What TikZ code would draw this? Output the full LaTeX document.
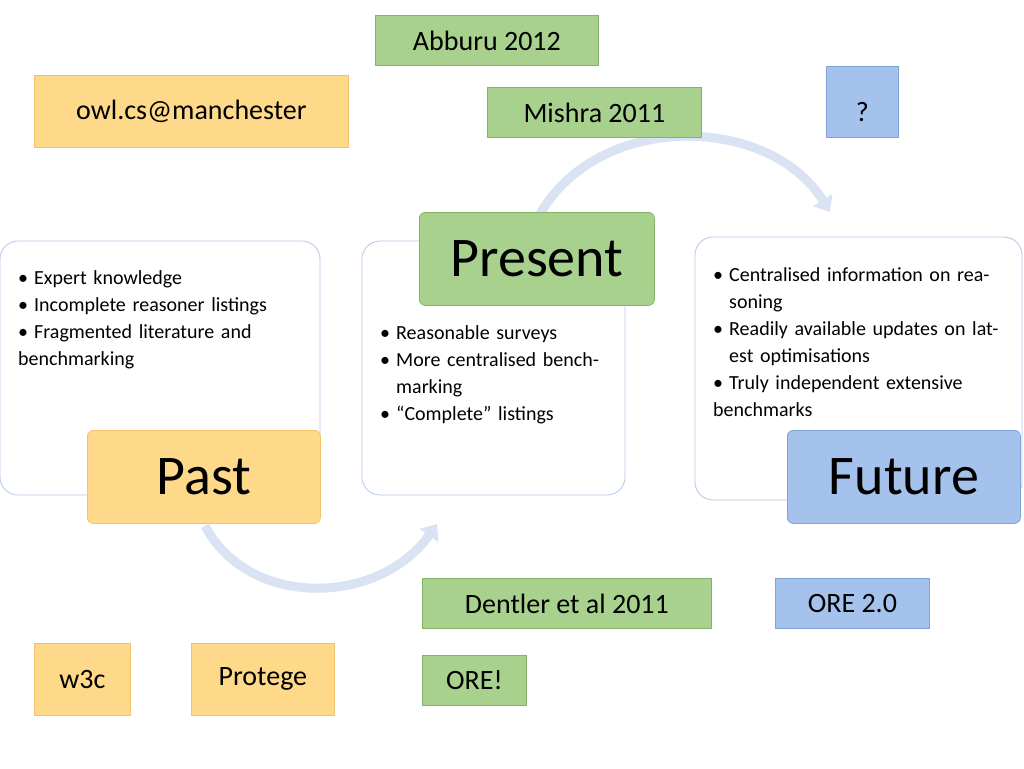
\documentclass[tikz,border=0pt]{standalone}
\usepackage{fontspec}
\setmainfont{Carlito}
\usetikzlibrary{arrows.meta}
\definecolor{gfill}{HTML}{A9D18E}\definecolor{gline}{HTML}{82B366}
\definecolor{ofill}{HTML}{FFD98A}\definecolor{oline}{HTML}{F4C26A}
\definecolor{bfill}{HTML}{A4C2EC}\definecolor{bline}{HTML}{7FA3D6}
\definecolor{cline}{HTML}{B4C7E7}\definecolor{arr}{HTML}{DAE3F3}
\newcommand\bitem[1]{\par\hangindent=16pt\hangafter=1\noindent\makebox[16pt][l]{\textbullet}#1}
\begin{document}
\begin{tikzpicture}[x=1pt,y=-1pt,
  box/.style={draw,line width=0.8pt,font=\fontsize{28}{32}\selectfont,inner sep=0},
  gbox/.style={box,fill=gfill,draw=gline},
  obox/.style={box,fill=ofill,draw=oline},
  bbox/.style={box,fill=bfill,draw=bline},
  panel/.style={draw=cline,line width=0.8pt,rounded corners=18pt,fill=white},
  btext/.style={anchor=north west,inner sep=0,font=\fontsize{20}{27}\selectfont,align=left},
  big/.style={font=\fontsize{56}{60}\selectfont,rounded corners=6pt},
  carrow/.style={line width=9pt,draw=arr,-{Triangle[length=14pt,width=22pt]}}]
\useasboundingbox (0,0) rectangle (1024,768);
\fill[white] (0,0) rectangle (1024,768);
% curved arrows
\coordinate (a1) at (540,214); \coordinate (a2) at (830,212);
\coordinate (b1) at (205,526); \coordinate (b2) at (437,524);
\draw[carrow] (a1) .. controls (600,110) and (770,115) .. (a2);
\draw[carrow] (b1) .. controls (250,610) and (380,605) .. (b2);
% panels
\draw[panel] (0,241) rectangle (320,495);
\draw[panel] (362,241) rectangle (625,495);
\draw[panel] (695,237) rectangle (1022,500);
\node[btext,text width=290pt] (pt) at (18,257) {\bitem{Expert knowledge}\bitem{Incomplete reasoner listings}\bitem{Fragmented literature and benchmarking}};
\node[btext,text width=230pt] (mt) at (380,312) {\bitem{Reasonable surveys}\bitem{More centralised benchmarking}\bitem{“Complete” listings}};
\node[btext,text width=300pt] (ft) at (713,254) {\bitem{Centralised information on reasoning}\bitem{Readily available updates on latest optimisations}\bitem{Truly independent extensive benchmarks}};
% big boxes
\node[gbox,big,minimum width=235pt,minimum height=93pt,anchor=north west,text depth=0pt] (present) at (419,212) {Present};
\node[obox,big,minimum width=233pt,minimum height=93pt,anchor=north west] (past) at (87,430) {Past};
\node[bbox,big,minimum width=233pt,minimum height=93pt,anchor=north west] (future) at (787,430) {Future};
% small boxes
\node[gbox,minimum width=223pt,minimum height=50pt,anchor=north west] (abb) at (375,15) {Abburu 2012};
\node[obox,minimum width=314pt,minimum height=72pt,anchor=north west] (owl) at (34,75) {owl.cs@manchester};
\node[gbox,minimum width=214pt,minimum height=50pt,anchor=north west] (mis) at (487,87) {Mishra 2011};
\node[bbox,minimum width=72pt,minimum height=71pt,anchor=north west,text height=40pt] (q) at (826,66) {?};
\node[gbox,minimum width=289pt,minimum height=50pt,anchor=north west] (den) at (422,578) {Dentler et al 2011};
\node[bbox,minimum width=154pt,minimum height=50pt,anchor=north west] (ore2) at (775,578) {ORE 2.0};
\node[obox,minimum width=96pt,minimum height=72pt,anchor=north west] (w3c) at (34,643) {w3c};
\node[obox,minimum width=143pt,minimum height=72pt,anchor=north west] (prot) at (191,643) {Protege};
\node[gbox,minimum width=104pt,minimum height=50pt,anchor=north west] (ore) at (422,655) {ORE!};
\end{tikzpicture}
\end{document}
